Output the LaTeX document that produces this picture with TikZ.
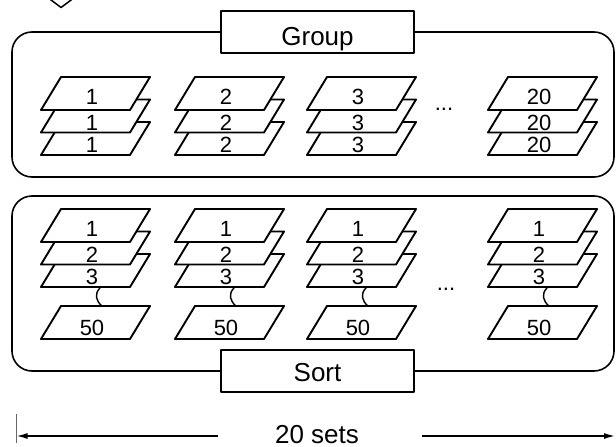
\documentclass[tikz,border=0pt]{standalone}
\usepackage{fontspec}
\setmainfont{Liberation Sans}
\usetikzlibrary{arrows.meta}
\newcommand\mysheet[4]{%
  \draw[sheet] (#1,#2) -- ++(89,0) -- ++(20,-33) -- ++(-89,0) -- cycle;
  \node[num, anchor=base] at (#1+51,#2-#4) {#3};
}
\newcommand\mysquig[1]{%
  \draw[line width=1.4pt] (#1+59,288) .. controls (#1+53,294) and (#1+55,301) .. (#1+61,306);
}
\begin{document}
\begin{tikzpicture}[x=1pt,y=-1pt,line join=round,
  sheet/.style={draw, fill=white, line width=1.9pt},
  panel/.style={draw, line width=1.6pt, rounded corners=20pt},
  titlebox/.style={draw, fill=white, line width=1.6pt, minimum width=193pt, minimum height=42pt, inner sep=0pt},
  title/.style={font=\fontsize{26}{30}\selectfont, inner sep=0pt},
  num/.style={font=\fontsize{22}{26}\selectfont, inner sep=0pt},
  dimline/.style={line width=1.4pt}]
\useasboundingbox (0,0) rectangle (616,447);
% chevron at top
\draw[line width=1.5pt] (47,-3) -- (61,7.5) -- (75,-3);
% Group panel
\draw[panel] (12,32) rectangle (614,177);
\node[titlebox] (gbox) at (317.5,32) {};
\node[title, anchor=base] (gtxt) at ([yshift=-13pt]gbox.center) {Group};
% Group stacks
\foreach \bx/\lab in {41/1,175/2,307/3,488/20}{
  \mysheet{\bx}{155}{\lab}{2.5}
  \mysheet{\bx}{132.5}{\lab}{2.5}
  \mysheet{\bx}{110}{\lab}{6}
}
\node[num, anchor=base] (gdots) at (444,110) {...};
% Sort panel
\draw[panel] (12,196) rectangle (614,371);
\node[titlebox] (sbox) at (317.5,371) {};
\node[title, anchor=base] (stxt) at ([yshift=-10pt]sbox.center) {Sort};
% Sort stacks
\foreach \bx in {41,175,307,488}{
  \mysheet{\bx}{287}{3}{2.5}
  \mysheet{\bx}{264.5}{2}{2.5}
  \mysheet{\bx}{242}{1}{6}
  \mysquig{\bx}
  \mysheet{\bx}{339}{50}{4}
}
\node[num, anchor=base] (sdots) at (446,290) {...};
% dimension
\node[title, anchor=base] (dim) at (317,443) {20 sets};
\coordinate (dl) at (16.5,436);
\coordinate (dr) at (615,436);
\coordinate (dls) at (218,436);
\coordinate (drs) at (422,436);
\draw[line width=0.8pt, black!60] (16.5,414) -- (16.5,443);
\draw[dimline, -{Latex[length=11pt,width=6pt]}] (dls) -- (dl);
\draw[dimline, -{Latex[length=11pt,width=6pt]}] (drs) -- (dr);
\end{tikzpicture}
\end{document}
